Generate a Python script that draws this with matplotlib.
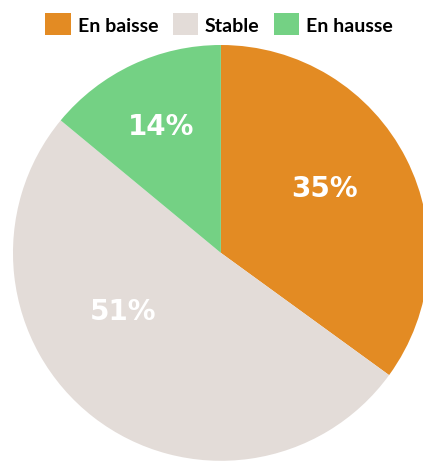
import matplotlib.pyplot as plt
from matplotlib.patches import Patch

categories = ["En baisse", "Stable", "En hausse"]
shares = [35, 51, 14]
colors = ["#E38B23", "#E3DCD8", "#74D184"]

# hand placed label spots (axes data units, pie radius = 1)
label_pos = [(0.50, 0.31), (-0.47, -0.28), (-0.29, 0.61)]

if __name__ == "__main__":
    fig = plt.figure(figsize=(4.23, 4.64), dpi=100)
    ax = fig.add_axes([0.0307, 0.0043, 0.983, 0.897])
    ax.pie(shares, colors=colors, startangle=90, counterclock=False,
           radius=1.0, wedgeprops=dict(linewidth=0))
    ax.set_xlim(-1, 1)
    ax.set_ylim(-1, 1)
    ax.set_aspect("equal")
    ax.axis("off")

    for v, (x, y) in zip(shares, label_pos):
        ax.text(x, y, f"{v}%", ha="center", va="center", color="white",
                fontsize=20, fontweight="heavy", family="DejaVu Sans")

    handles = [Patch(facecolor=c, edgecolor="none") for c in colors]
    fig.legend(handles, categories, loc="center", ncol=3,
               bbox_to_anchor=(0.518, 0.946), frameon=False,
               prop=dict(family="Lato", size=14, weight="bold"),
               handlelength=1.3, handleheight=1.3, handletextpad=0.35,
               columnspacing=0.75, borderpad=0)
    fig.savefig("out.png", dpi=100)
